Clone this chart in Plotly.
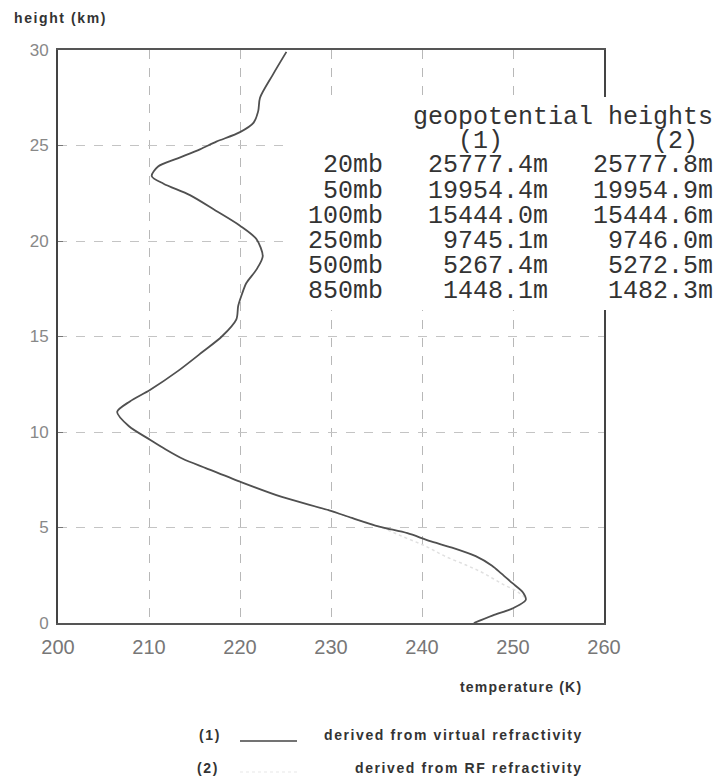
import plotly.graph_objects as go

# ---- data ----
height_1 = [0.0, 0.4, 0.75, 1.2, 1.6, 2.1, 2.6, 3.0, 3.5, 3.95, 4.3, 4.7, 5.05, 5.5, 5.9,
            6.6, 7.4, 8.1, 8.6, 9.1, 9.6, 10.3, 11.05, 11.6, 12.2, 13.2, 14.2, 15.0, 15.9,
            16.6, 17.2, 17.8, 18.5, 19.2, 20.1, 20.8, 21.6, 22.4, 23.0, 23.4, 23.9, 24.3,
            24.8, 25.2, 25.7, 26.2, 26.8, 27.5, 28.7, 29.9]
temp_1 = [245.7, 247.8, 249.9, 251.4, 251.1, 249.9, 248.7, 247.7, 245.9, 243.3, 240.8, 238.4,
          235.3, 232.3, 229.8, 224.6, 220.0, 216.3, 213.7, 211.8, 210.1, 207.8, 206.5, 207.9,
          210.1, 213.2, 215.9, 218.0, 219.6, 219.8, 220.2, 220.7, 221.8, 222.5, 221.8, 220.0,
          217.3, 214.5, 211.6, 210.3, 211.0, 213.0, 215.6, 217.4, 220.0, 221.5, 222.0, 222.2,
          223.6, 225.1]
height_2 = [0.0, 0.4, 0.75, 1.2, 1.6, 2.05, 2.6, 3.0, 3.5, 4.0, 4.5, 5.05, 5.5, 5.9]
temp_2 = [245.7, 247.8, 249.9, 251.4, 250.6, 248.8, 246.8, 245.0, 242.5, 240.5, 238.0, 235.3,
          232.3, 229.8]

x_ticks = [200, 210, 220, 230, 240, 250, 260]
y_ticks = [0, 5, 10, 15, 20, 25, 30]

table_levels = ["20mb", "50mb", "100mb", "250mb", "500mb", "850mb"]
table_h1 = ["25777.4m", "19954.4m", "15444.0m", "9745.1m", "5267.4m", "1448.1m"]
table_h2 = ["25777.8m", "19954.9m", "15444.6m", "9746.0m", "5272.5m", "1482.3m"]

# ---- geometry helpers (pixel -> paper) ----
W, H = 719, 782
L, R, T, B = 58, 115, 50, 159
PW, PH = W - L - R, H - T - B


def xp(px):
    return (px - L) / PW


def yp(py):
    return (H - B - py) / PH


fig = go.Figure()
fig.add_trace(go.Scatter(x=temp_2, y=height_2, mode="lines",
                         line=dict(color="#e0e0e0", width=1.5, dash="dot", shape="spline"),
                         showlegend=False, hoverinfo="skip"))
fig.add_trace(go.Scatter(x=temp_1, y=height_1, mode="lines",
                         line=dict(color="#505050", width=1.8, shape="spline", smoothing=0.8),
                         showlegend=False, hoverinfo="skip"))

fig.update_layout(
    width=W, height=H,
    margin=dict(l=L, r=R, t=T, b=B),
    paper_bgcolor="white", plot_bgcolor="white",
    font=dict(family="Liberation Sans, Arial, sans-serif", color="#333"),
    showlegend=False,
)
fig.update_xaxes(range=[200, 260], tickvals=x_ticks, ticktext=[str(v) for v in x_ticks],
                 showgrid=True, gridcolor="#b8b8b8", griddash="dash", gridwidth=1,
                 showline=True, linecolor="#555", linewidth=2, mirror=True,
                 ticks="", ticklabelstandoff=5,
                 tickfont=dict(size=20, color="#777", family="Liberation Sans, Arial"),
                 zeroline=False)
fig.update_yaxes(range=[0, 30], tickvals=y_ticks, ticktext=[str(v) for v in y_ticks],
                 showgrid=True, gridcolor="#c4c4c4", griddash="dash", gridwidth=1,
                 showline=True, linecolor="#444", linewidth=2, mirror=True,
                 ticks="inside", ticklen=5, tickcolor="#777", ticklabelstandoff=4,
                 tickfont=dict(size=17, color="#888", family="Liberation Sans, Arial"),
                 zeroline=False)

# white box behind the table
fig.add_shape(type="rect", xref="paper", yref="paper",
              x0=xp(283), x1=xp(719), y0=yp(310), y1=yp(97),
              fillcolor="white", line=dict(width=0), layer="above")

mono = dict(family="Liberation Mono, Courier New, monospace", size=25, color="#333")
NB = "\u00a0"


def mono_line(s):
    return s.replace(" ", NB)


rows = ["       geopotential heights", "          (1)          (2)"]
for lev, a, b in zip(table_levels, table_h1, table_h2):
    rows.append(f"{lev:>5}   {a:>8}   {b:>8}")
row_y = [117, 141, 166, 191, 216, 241, 266, 291]
for s, py in zip(rows, row_y):
    fig.add_annotation(xref="paper", yref="paper", x=xp(306), y=yp(py),
                       xanchor="left", yanchor="middle", showarrow=False,
                       text=mono_line(s), font=mono)

lbl = dict(family="Liberation Sans, Arial, sans-serif", size=14, color="#333")


def spaced(t, sp=1.6):
    return f"<span style='letter-spacing:{sp}px'><b>{t}</b></span>"


fig.add_annotation(xref="paper", yref="paper", x=xp(12), y=yp(18), xanchor="left",
                   yanchor="middle", showarrow=False, text=spaced("height (km)"), font=lbl)
fig.add_annotation(xref="paper", yref="paper", x=xp(584), y=yp(687), xanchor="right",
                   yanchor="middle", showarrow=False, text=spaced("temperature (K)", 1.2),
                   font=lbl)
fig.add_annotation(xref="paper", yref="paper", x=xp(197), y=yp(735), xanchor="left",
                   yanchor="middle", showarrow=False, text=spaced("(1)"), font=lbl)
fig.add_annotation(xref="paper", yref="paper", x=xp(585), y=yp(735), xanchor="right",
                   yanchor="middle", showarrow=False,
                   text=spaced("derived from virtual refractivity"), font=lbl)
fig.add_annotation(xref="paper", yref="paper", x=xp(195), y=yp(768), xanchor="left",
                   yanchor="middle", showarrow=False, text=spaced("(2)"), font=lbl)
fig.add_annotation(xref="paper", yref="paper", x=xp(585), y=yp(768), xanchor="right",
                   yanchor="middle", showarrow=False,
                   text=spaced("derived from RF refractivity"), font=lbl)
# legend line samples
fig.add_shape(type="line", xref="paper", yref="paper", x0=xp(240), x1=xp(297),
              y0=yp(741), y1=yp(741), line=dict(color="#444", width=1.5))
fig.add_shape(type="line", xref="paper", yref="paper", x0=xp(240), x1=xp(297),
              y0=yp(772), y1=yp(772), line=dict(color="#f0f0f0", width=1.5, dash="dot"))

fig.write_html("out.html")
